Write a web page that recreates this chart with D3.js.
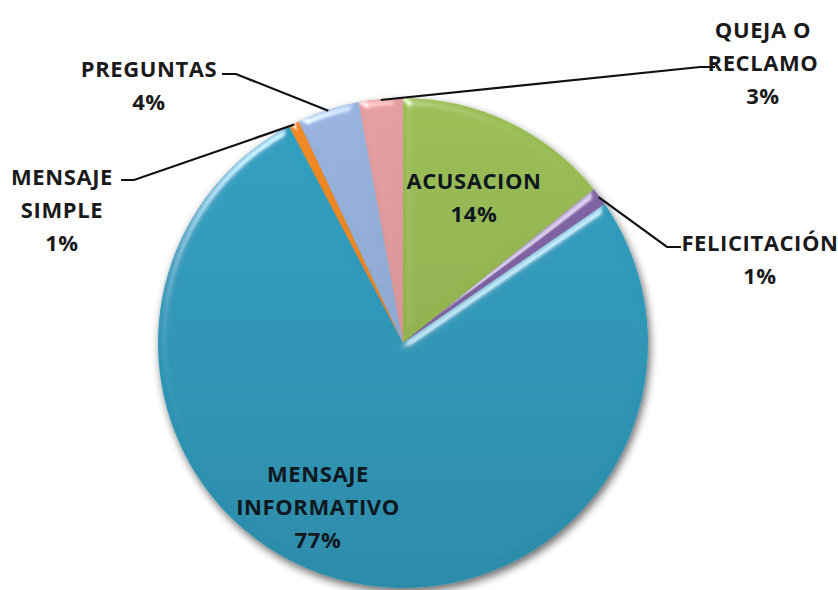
<!DOCTYPE html>
<html>
<head>
<meta charset="utf-8">
<script src="https://cdn.jsdelivr.net/npm/d3@7"></script>
<style>
  html, body { margin: 0; padding: 0; background: #fff; }
  svg text { font-family: "Open Sans", "Liberation Sans", sans-serif; font-weight: bold; }
</style>
</head>
<body>
<svg id="chart" width="838" height="590"></svg>
<script>
// chart data
var categories = ["ACUSACION", "FELICITACIÓN", "MENSAJE INFORMATIVO", "MENSAJE SIMPLE", "PREGUNTAS", "QUEJA O RECLAMO"];
var values = [14.2, 1.2, 76.9, 0.7, 4.1, 2.9];
var percentLabels = ["14%", "1%", "77%", "1%", "4%", "3%"];
var labelLines = [["ACUSACION"], ["FELICITACIÓN"], ["MENSAJE", "INFORMATIVO"], ["MENSAJE", "SIMPLE"], ["PREGUNTAS"], ["QUEJA O", "RECLAMO"]];

var colors = ["#9bbe55", "#8466a8", "#30a0c2", "#f28a22", "#97b4df", "#e59ea1"];

// label placement (Excel put these by hand)
var labelPos = [
    {x: 474, y: 181, inside: true},
    {x: 760, y: 243, elbow: [[667, 247], [681, 247]]},
    {x: 318, y: 474, inside: true},
    {x: 62,  y: 177, elbow: [[134, 180], [121, 180]]},
    {x: 149, y: 69,  elbow: [[236, 74], [222, 74]]},
    {x: 763, y: 30,  elbow: [[700, 67], [715, 67]]}
];

var cx = 403, cy = 343, radius = 245, lineH = 33;

var svg = d3.select('#chart');
var defs = svg.append('defs');

// soft shadow under the whole pie
var shadow = defs.append('filter').attr('id', 'shadow')
    .attr('x', '-20%').attr('y', '-20%').attr('width', '140%').attr('height', '140%');
shadow.append('feGaussianBlur').attr('in', 'SourceAlpha').attr('stdDeviation', 4);
shadow.append('feOffset').attr('dx', 2).attr('dy', 4).attr('result', 'off');
shadow.append('feComponentTransfer').append('feFuncA').attr('type', 'linear').attr('slope', 0.6);
var sm = shadow.append('feMerge');
sm.append('feMergeNode');
sm.append('feMergeNode').attr('in', 'SourceGraphic');

// bevel look on each slice
var bevel = defs.append('filter').attr('id', 'bevel')
    .attr('x', '-5%').attr('y', '-5%').attr('width', '110%').attr('height', '110%');
bevel.append('feGaussianBlur').attr('in', 'SourceAlpha').attr('stdDeviation', 4).attr('result', 'blur');
bevel.append('feSpecularLighting').attr('in', 'blur')
    .attr('surfaceScale', 5).attr('specularConstant', 0.7).attr('specularExponent', 28)
    .attr('lighting-color', '#ffffff').attr('result', 'spec')
  .append('feDistantLight').attr('azimuth', 235).attr('elevation', 28);
bevel.append('feComposite').attr('in', 'spec').attr('in2', 'SourceAlpha')
    .attr('operator', 'in').attr('result', 'specOut');
bevel.append('feComposite').attr('in', 'SourceGraphic').attr('in2', 'specOut')
    .attr('operator', 'arithmetic').attr('k1', 0).attr('k2', 1).attr('k3', 0.8).attr('k4', 0);

// darker toward the bottom of the pie
var shade = defs.append('linearGradient').attr('id', 'shade')
    .attr('x1', 0).attr('y1', 0).attr('x2', 0).attr('y2', 1);
shade.append('stop').attr('offset', '0%').attr('stop-color', '#000').attr('stop-opacity', 0);
shade.append('stop').attr('offset', '100%').attr('stop-color', '#000').attr('stop-opacity', 0.13);

var pie = d3.pie().sort(null).value(function(d) { return d; });
var arcs = pie(values);
var arc = d3.arc().innerRadius(0).outerRadius(radius);

var g = svg.append('g').attr('transform', 'translate(' + cx + ',' + cy + ')');
var pieG = g.append('g').attr('filter', 'url(#shadow)');

pieG.selectAll('path.slice')
    .data(arcs)
    .enter().append('path')
    .attr('class', 'slice')
    .attr('d', arc)
    .attr('fill', function(d, i) { return colors[i]; })
    .attr('filter', 'url(#bevel)');

g.append('circle').attr('r', radius).attr('fill', 'url(#shade)');

// leader lines for the outside labels
arcs.forEach(function(d, i) {
    var p = labelPos[i];
    if (p.inside) return;
    var a = (d.startAngle + d.endAngle) / 2;
    var start = [cx + Math.sin(a) * (radius - 1), cy - Math.cos(a) * (radius - 1)];
    var pts = [start].concat(p.elbow);
    svg.append('path')
        .attr('d', d3.line()(pts))
        .attr('fill', 'none')
        .attr('stroke', '#111')
        .attr('stroke-width', 2.2);
});

// labels
arcs.forEach(function(d, i) {
    var p = labelPos[i];
    var lines = labelLines[i].concat([percentLabels[i]]);
    var t = svg.append('text')
        .attr('text-anchor', 'middle')
        .attr('font-size', 22)
        .attr('letter-spacing', 0.6)
        .attr('fill', p.inside ? '#0f1820' : '#1a1a1a');
    lines.forEach(function(s, k) {
        t.append('tspan')
            .attr('x', p.x)
            .attr('y', p.y + k * lineH)
            .attr('dy', '0.35em')
            .text(s);
    });
});
</script>
</body>
</html>
